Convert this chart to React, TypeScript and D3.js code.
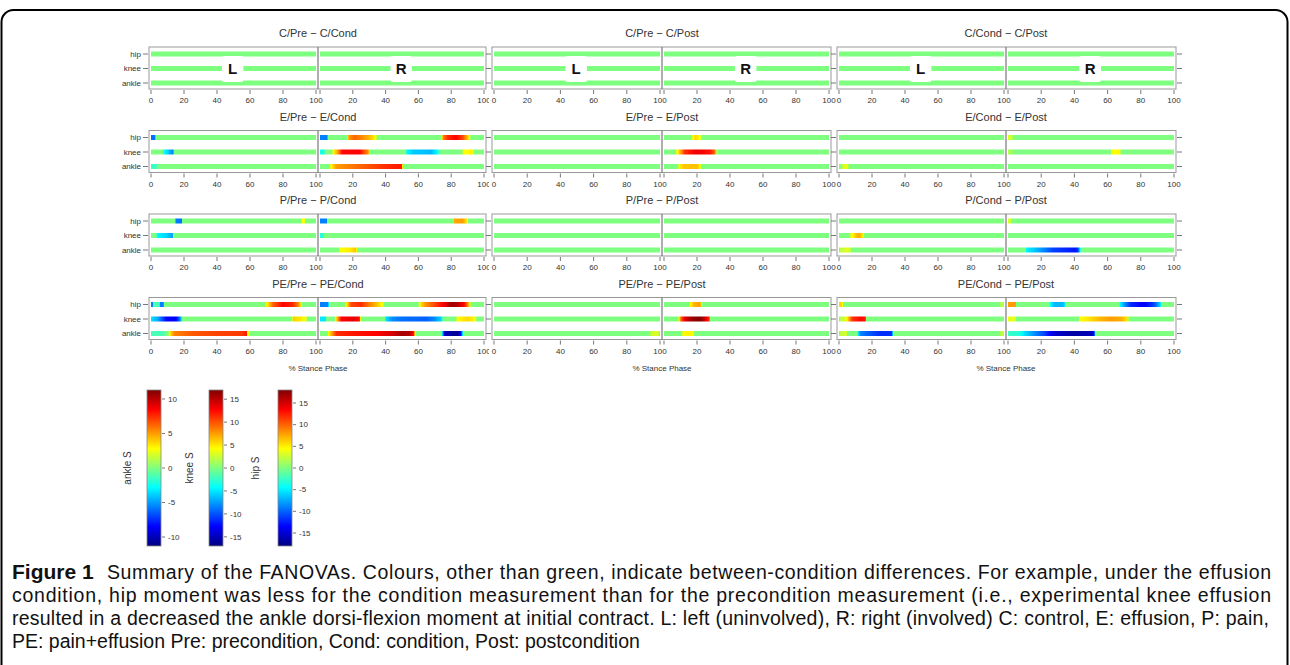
import React from "react";
import * as d3 from "d3";

type Knot = [number, number];
type Strip = { side: "L" | "R"; joint: "hip" | "knee" | "ankle"; knots: Knot[] };

const panelTitles = [
  "C/Pre − C/Cond", "C/Pre − C/Post", "C/Cond − C/Post",
  "E/Pre − E/Cond", "E/Pre − E/Post", "E/Cond − E/Post",
  "P/Pre − P/Cond", "P/Pre − P/Post", "P/Cond − P/Post",
  "PE/Pre − PE/Cond", "PE/Pre − PE/Post", "PE/Cond − PE/Post",
];
const joints = ["hip", "knee", "ankle"];
const jointMax: Record<string, number> = { hip: 18, knee: 17, ankle: 11.3 };
const xTicksL = [0, 20, 40, 60, 80, 100];
const xTicksR = [20, 40, 60, 80, 100];
const sides: ("L" | "R")[] = ["L", "R"];

// S statistic knots [% stance, S] per strip (green = 0)
const cPreCond: Strip[] = [];
const cPrePost: Strip[] = [];
const cCondPost: Strip[] = [];
const ePreCond: Strip[] = [
  { side: "L", joint: "hip", knots: [[0, -9.5], [2.5, -9.5], [3, 0]] },
  { side: "L", joint: "knee", knots: [[7, 0], [8, -4], [10.5, -6], [13.5, -8.5], [14, 0]] },
  { side: "L", joint: "ankle", knots: [[0, -1.5], [3.5, -1.5], [4, 0]] },
  { side: "R", joint: "hip", knots: [[0, -9], [4.4, -9], [5, 0], [16.5, 0], [17.5, 8], [21, 10], [26, 8.5], [30, 7], [34, 4.5], [35, 0], [74, 0], [75, 9], [78, 12], [83, 13.5], [87, 11], [89, 8], [91, 5], [92, 0]] },
  { side: "R", joint: "knee", knots: [[0, -3.5], [2.5, -3.5], [3, 0], [7, 0], [8, 4.25], [10.5, 7], [13.5, 12.5], [24, 12.75], [27, 10], [29.5, 8], [30, 0], [52, 0], [53, -4.5], [57, -6], [68, -6.5], [72, -4], [73, 0], [86.5, 0], [87.5, 4.25], [93, 4.5], [94, 0]] },
  { side: "R", joint: "ankle", knots: [[6, 0], [6.5, 2.8], [10, 5], [28, 6.5], [40, 7.5], [50, 8], [50.5, 0]] },
];
const ePrePost: Strip[] = [
  { side: "R", joint: "hip", knots: [[16.5, 0], [17, 3.5], [19, 6], [21, 5], [22.5, 3], [23, 0]] },
  { side: "R", joint: "knee", knots: [[7, 0], [7.5, 3.5], [10, 7], [12.5, 11], [20, 13.5], [28, 12], [31, 9], [32, 0]] },
  { side: "R", joint: "ankle", knots: [[8.5, 0], [9, 3], [12, 4], [20, 4.2], [22, 3], [22.5, 0]] },
];
const eCondPost: Strip[] = [
  { side: "L", joint: "ankle", knots: [[1, 0], [2, 1.5], [4, 2.5], [5.5, 2], [6, 0]] },
  { side: "R", joint: "hip", knots: [[0, 3], [2.5, 3], [3, 0]] },
  { side: "R", joint: "knee", knots: [[0, 1.5], [2.5, 1.5], [3, 0], [62, 0], [62.5, 4.25], [67.5, 4.5], [68, 0]] },
];
const pPreCond: Strip[] = [
  { side: "L", joint: "hip", knots: [[14.5, 0], [15, -9], [18.5, -9.5], [19, 0], [91, 0], [91.5, 4.5], [93, 4.5], [93.5, 0]] },
  { side: "L", joint: "knee", knots: [[3, 0], [4, -4.5], [9, -5.5], [13, -7.5], [13.5, 0]] },
  { side: "R", joint: "hip", knots: [[0, -9], [4, -9], [4.5, 0], [81.5, 0], [82, 7.5], [87, 8], [89, 6], [90, 4.5], [90.5, 0]] },
  { side: "R", joint: "knee", knots: [[0, -3], [2, -3], [2.5, 0]] },
  { side: "R", joint: "ankle", knots: [[11.5, 0], [12, 2.8], [18, 3.2], [22, 4.2], [23, 0]] },
];
const pPrePost: Strip[] = [];
const pCondPost: Strip[] = [
  { side: "L", joint: "knee", knots: [[6.5, 0], [7, 3], [10, 6], [12, 7], [14, 5.5], [15, 3], [15.5, 0]] },
  { side: "L", joint: "ankle", knots: [[0.5, 0], [1, 1.5], [5, 2.2], [7, 1.5], [7.5, 0]] },
  { side: "R", joint: "hip", knots: [[0, 3], [1.5, 3], [2, 0]] },
  { side: "R", joint: "ankle", knots: [[10.5, 0], [11, -3], [18, -4.5], [27, -7], [40, -8], [42, -7.5], [43.5, -3], [44, 0]] },
];
const pePreCond: Strip[] = [
  { side: "L", joint: "hip", knots: [[0, -9], [1.2, -9], [1.5, -2], [5, -2], [5.5, -9], [7.5, -9], [8, 0], [69.5, 0], [70, 4.5], [74, 10], [80, 13.5], [86, 12], [89, 9], [91, 5], [91.5, 0]] },
  { side: "L", joint: "knee", knots: [[0, -5], [4, -7], [9, -12.5], [15, -13], [17, -10], [18.5, -5], [19, 0], [85.5, 0], [86, 6], [90, 5], [94, 4.25], [94.5, 0]] },
  { side: "L", joint: "ankle", knots: [[0, -1.2], [8, -1.2], [8.5, 0], [10.5, 0], [11, 2.8], [14, 5.5], [25, 6.5], [40, 7], [55, 7.2], [58, 8], [58.5, 3], [59.5, 2.5], [60, 0]] },
  { side: "R", joint: "hip", knots: [[0, -9], [5, -9], [5.5, 0], [15.5, 0], [16, 4.5], [19, 11], [25, 12], [30, 9], [35, 6.5], [38.5, 4], [39, 0], [60, 0], [60.5, 4.5], [64, 8], [70, 11], [76, 14], [80, 17], [84, 16], [88, 13], [90, 9], [91.5, 5], [92, 0]] },
  { side: "R", joint: "knee", knots: [[0, -5], [3.5, -5], [4, 0], [9, 0], [9.5, 4.25], [11, 8], [13, 12.75], [20, 13.5], [24, 12.5], [25, 0], [39.5, 0], [40, -5], [44, -8], [50, -9], [65, -9.5], [70, -8], [74, -5.5], [75, 0], [83, 0], [83.5, 4.25], [90, 5.5], [95, 4.25], [95.5, 0]] },
  { side: "R", joint: "ankle", knots: [[4.5, 0], [5, 2.8], [8, 5.6], [10, 7.5], [20, 8], [35, 8.5], [45, 9.5], [50, 10.5], [55, 10], [57, 8], [58, 3], [58.5, 0], [74, 0], [74.5, -3], [76, -10], [84, -11], [86, -8], [87, -3], [87.5, 0]] },
];
const pePrePost: Strip[] = [
  { side: "L", joint: "ankle", knots: [[94, 0], [94.5, 2], [99, 2], [99.5, 0]] },
  { side: "R", joint: "hip", knots: [[15.5, 0], [16, 4.5], [18, 7], [22, 8], [23, 0]] },
  { side: "R", joint: "knee", knots: [[8.5, 0], [9, 4.25], [10.5, 10], [13, 14], [17, 16], [22, 17], [25, 14], [27.5, 11], [28, 0]] },
  { side: "R", joint: "ankle", knots: [[10.5, 0], [11, 2], [13, 3], [17, 3], [18, 2], [18.5, 0]] },
];
const peCondPost: Strip[] = [
  { side: "L", joint: "hip", knots: [[0, 6], [2, 6], [2.5, 0], [97.5, 0], [98, 2], [100, 2]] },
  { side: "L", joint: "knee", knots: [[0.5, 0], [1, 2], [4, 3], [5, 5], [8, 11], [13, 12.5], [16, 12], [16.5, 0]] },
  { side: "L", joint: "ankle", knots: [[0.5, 0], [1, 1.5], [4.5, 2], [5, 0], [11, 0], [11.5, -3], [13, -5.5], [18, -6.5], [25, -7.5], [32, -7.5], [33, 0], [97.5, 0], [98, 1.5], [100, 1.5]] },
  { side: "R", joint: "hip", knots: [[0, 8], [4.5, 8], [5, 0], [25, 0], [25.5, -4.5], [28, -7], [33, -7], [34.5, -4.5], [35, 0], [67, 0], [67.5, -4.5], [70, -8], [74, -12], [82, -14], [88, -11], [91, -7], [92, -5], [92.5, 0]] },
  { side: "R", joint: "knee", knots: [[0, 3.5], [4.5, 3.5], [5, 0], [42.5, 0], [43, 4.25], [48, 5], [55, 6.5], [62, 7.5], [68, 7], [72, 5], [73, 0]] },
  { side: "R", joint: "ankle", knots: [[0, -1.5], [7, -2], [10, -3.5], [15, -5], [22, -7], [28, -9.5], [40, -10.5], [50, -10], [52, -8], [52.5, 0]] },
];
const panelStrips: Strip[][] = [
  cPreCond, cPrePost, cCondPost,
  ePreCond, ePrePost, eCondPost,
  pPreCond, pPrePost, pCondPost,
  pePreCond, pePrePost, peCondPost,
];

const colorbarJoints = ["ankle", "knee", "hip"];
const colorbarMax = [11.3, 17, 18];
const colorbarTicks = [
  [-10, -5, 0, 5, 10],
  [-15, -10, -5, 0, 5, 10, 15],
  [-15, -10, -5, 0, 5, 10, 15],
];

const captionLines = [
  "Summary of the FANOVAs. Colours, other than green, indicate between-condition differences. For example, under the effusion",
  "condition, hip moment was less for the condition measurement than for the precondition measurement (i.e., experimental knee effusion",
  "resulted in a decreased the ankle dorsi-flexion moment at initial contract. L: left (uninvolved), R: right (involved) C: control, E: effusion, P: pain,",
  "PE: pain+effusion Pre: precondition, Cond: condition, Post: postcondition",
];

const jetColors = ["#00007F", "#0000FF", "#007FFF", "#00FFFF", "#7FFF7F", "#FFFF00", "#FF7F00", "#FF0000", "#7F0000"];
const jet = d3
  .scaleLinear<string>()
  .domain(jetColors.map((_, i) => -1 + i * 0.25))
  .range(jetColors)
  .interpolate(d3.interpolateRgb)
  .clamp(true);

function stopsFor(knots: Knot[], max: number) {
  const out: { offset: number; color: string }[] = [];
  for (let k = 0; k < knots.length; k++) {
    const [p, v] = knots[k];
    if (k < knots.length - 1) {
      const [p1, v1] = knots[k + 1];
      const n = 8;
      for (let j = 0; j < n; j++) {
        const t = j / n;
        out.push({ offset: p + (p1 - p) * t, color: jet((v + (v1 - v) * t) / max) });
      }
    } else out.push({ offset: p, color: jet(v / max) });
  }
  return out;
}

const FONT = "'Liberation Sans', Arial, Helvetica, sans-serif";

export default function App() {
  const W = 1290, H = 665;
  const colLeft = [149, 492, 837];
  const colDiv = [318, 662, 1006];
  const colRight = [486, 831, 1176];
  const boxH = 42;
  const lineH = 5;
  const rowTop = (r: number) => 47 + r * 83.5;
  const axisColor = "#555";
  const textColor = "#333";

  const defs: React.ReactNode[] = [];
  const panels = panelTitles.map((title, i) => {
    const row = Math.floor(i / 3), col = i % 3;
    const top = rowTop(row), bottom = top + boxH;
    const xs = {
      L: d3.scaleLinear().domain([0, 100]).range([colLeft[col] + 2, colDiv[col] - 2]),
      R: d3.scaleLinear().domain([0, 100]).range([colDiv[col] + 2, colRight[col] - 2]),
    };
    const y = d3.scalePoint<string>().domain(joints).range([top + 7, top + 36]);
    const strips = panelStrips[i];
    const els: React.ReactNode[] = [];
    sides.forEach((s) => {
      joints.forEach((j) => {
        const x = xs[s];
        const st = strips.find((d) => d.side === s && d.joint === j);
        let fill = jet(0);
        if (st) {
          const id = `g${i}${s}${j}`;
          defs.push(
            <linearGradient key={id} id={id} x1="0" x2="1" y1="0" y2="0">
              {stopsFor(st.knots, jointMax[j]).map((o, k) => (
                <stop key={k} offset={`${o.offset}%`} stopColor={o.color} />
              ))}
            </linearGradient>
          );
          fill = `url(#${id})`;
        }
        els.push(
          <rect key={`s${s}${j}`} x={x(0)} y={(y(j) as number) - lineH / 2} width={x(100) - x(0)} height={lineH} fill={fill} />
        );
      });
      if (row === 0) {
        const x = xs[s];
        els.push(
          <g key={`lab${s}`}>
            <rect x={x(43)} y={top + 9} width={x(56) - x(43)} height={26} fill="white" rx={2} />
            <text x={x(49.5)} y={top + 27} textAnchor="middle" fontFamily={FONT} fontWeight="bold" fontSize={15} fill="#111">{s}</text>
          </g>
        );
      }
    });
    els.push(<rect key="box" x={colLeft[col]} y={top} width={colRight[col] - colLeft[col]} height={boxH} fill="none" stroke="#999" strokeWidth={1} />);
    els.push(<line key="div" x1={colDiv[col]} x2={colDiv[col]} y1={top} y2={bottom} stroke="#777" strokeWidth={1.2} />);
    const tickEls: React.ReactNode[] = [];
    sides.forEach((s) => {
      (s === "L" ? xTicksL : xTicksR).forEach((t) => {
        const xx = xs[s](t);
        tickEls.push(<line key={`t${s}${t}`} x1={xx} x2={xx} y1={bottom + 1} y2={bottom + 5} stroke={axisColor} strokeWidth={0.8} />);
        tickEls.push(
          <text key={`tl${s}${t}`} x={xx} y={bottom + 14} textAnchor="middle" fontFamily={FONT} fontSize={8} fill={textColor}>{t}</text>
        );
      });
      const x0 = xs[s](0);
      if (s === "R") tickEls.push(<line key="tR0" x1={x0} x2={x0} y1={bottom + 1} y2={bottom + 5} stroke={axisColor} strokeWidth={0.8} />);
    });
    els.push(
      <g key="ticks" clipPath={col === 0 ? "url(#clipCol0)" : undefined}>{tickEls}</g>
    );
    joints.forEach((j) => {
      const yy = y(j) as number;
      els.push(<line key={`yt${j}`} x1={colLeft[col] - 6} x2={colLeft[col] - 1} y1={yy} y2={yy} stroke={axisColor} strokeWidth={0.8} />);
      if (col === 0)
        els.push(<text key={`yl${j}`} x={colLeft[col] - 8} y={yy + 2.8} textAnchor="end" fontFamily={FONT} fontSize={8} fill={textColor}>{j}</text>);
      if (col === 2)
        els.push(<line key={`ytr${j}`} x1={colRight[col] + 1} x2={colRight[col] + 6} y1={yy} y2={yy} stroke={axisColor} strokeWidth={0.8} />);
    });
    els.push(
      <text key="title" x={colDiv[col]} y={top - 10} textAnchor="middle" fontFamily={FONT} fontSize={11} fill={textColor}>{title}</text>
    );
    if (row === 3)
      els.push(
        <text key="xlab" x={colDiv[col]} y={bottom + 31} textAnchor="middle" fontFamily={FONT} fontSize={8} fill={textColor}>% Stance Phase</text>
      );
    return <g key={i}>{els}</g>;
  });

  const barX = [147, 209, 278];
  const barW = 14;
  const barTop = 390, barBottom = 546;
  const labelX = [131, 193, 259];
  const cbGrad = (
    <linearGradient id="jetV" x1="0" x2="0" y1="1" y2="0">
      {jetColors.map((c, k) => (
        <stop key={k} offset={`${(k / (jetColors.length - 1)) * 100}%`} stopColor={c} />
      ))}
    </linearGradient>
  );
  const colorbars = colorbarJoints.map((j, k) => {
    const ys = d3.scaleLinear().domain([-colorbarMax[k], colorbarMax[k]]).range([barBottom, barTop]);
    const x0 = barX[k];
    return (
      <g key={j}>
        <rect x={x0} y={barTop} width={barW} height={barBottom - barTop} fill="url(#jetV)" stroke="#888" strokeWidth={0.8} />
        {colorbarTicks[k].map((t) => (
          <g key={t}>
            <line x1={x0 + barW + 1} x2={x0 + barW + 4} y1={ys(t)} y2={ys(t)} stroke={axisColor} strokeWidth={0.8} />
            <text x={x0 + barW + 7} y={ys(t) + 2.8} fontFamily={FONT} fontSize={8} fill={textColor}>{t}</text>
          </g>
        ))}
        <text transform={`translate(${labelX[k]},468) rotate(-90)`} textAnchor="middle" fontFamily={FONT} fontSize={10} fill={textColor}>{`${j} S`}</text>
      </g>
    );
  });

  const capFont = 19.5;
  const capY = [579, 602, 625, 648];
  const capRight = 1271;

  return (
    <svg width={W} height={H} style={{ position: "absolute", left: 0, top: 0, background: "white" }}>
      <defs>
        {defs}
        {cbGrad}
        <clipPath id="clipCol0">
          <rect x={0} y={0} width={489} height={H} />
        </clipPath>
      </defs>
      <rect x={1.5} y={10} width={1286} height={700} rx={12} fill="white" stroke="#000" strokeWidth={2} />
      {panels}
      {colorbars}
      <g fontFamily={FONT} fontSize={capFont} fill="#111">
        <text x={12} y={capY[0]} fontWeight="bold" fontSize={21}>Figure 1</text>
        <text x={107} y={capY[0]} textLength={capRight - 107} lengthAdjust="spacing">{captionLines[0]}</text>
        <text x={12} y={capY[1]} textLength={capRight - 12} lengthAdjust="spacing">{captionLines[1]}</text>
        <text x={12} y={capY[2]} textLength={capRight - 14} lengthAdjust="spacing">{captionLines[2]}</text>
        <text x={12} y={capY[3]}>{captionLines[3]}</text>
      </g>
    </svg>
  );
}
